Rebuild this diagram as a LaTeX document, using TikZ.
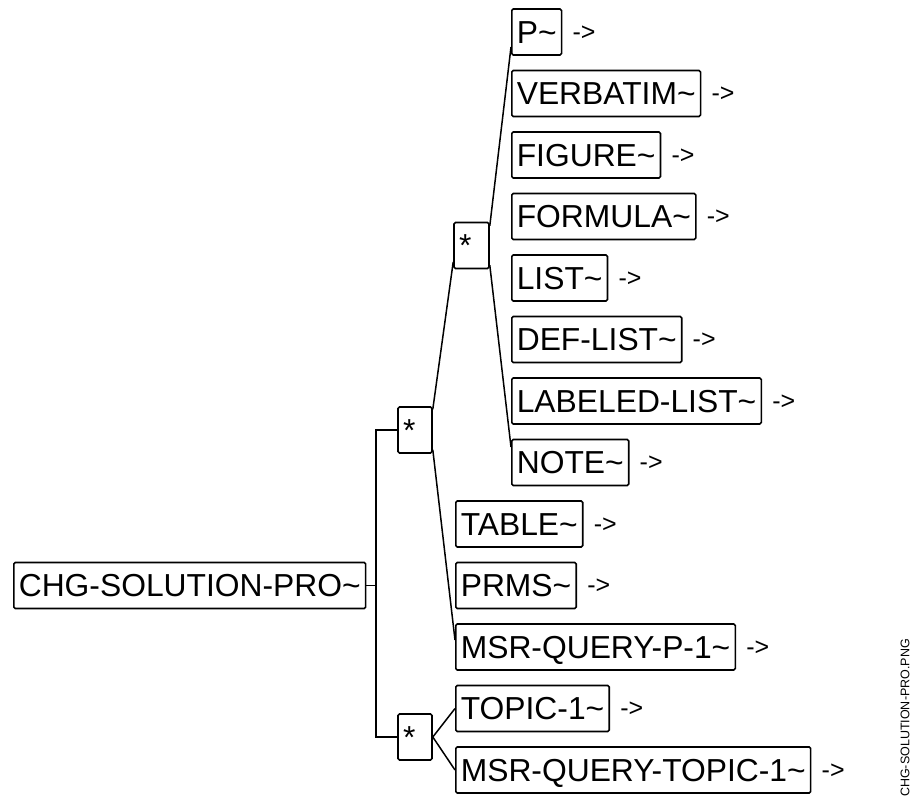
\documentclass[tikz,border=0pt]{standalone}
\usepackage{fontspec}
\setmainfont{Liberation Sans}
\newcommand{\tld}{\textasciitilde}
\begin{document}
\begin{tikzpicture}[x=1pt,y={(0pt,-1pt)},
  box/.style={draw, line width=1.6pt, rounded corners=1.5pt,
    font=\fontsize{31.8}{36}\selectfont, inner xsep=5pt, inner ysep=0pt,
    minimum height=46pt, text height=22.8pt, text depth=0pt, anchor=west},
  starbox/.style={box, anchor=center},
  arr/.style={font=\fontsize{25}{30}\selectfont, inner sep=0pt, anchor=west},
  conn/.style={line width=1.5pt}]
\useasboundingbox (0,0) rectangle (923,805);

% root and star nodes
\node[box] (root) at (13,585.5) {CHG-SOLUTION-PRO\tld};
\node[starbox] (s1) at (415,430) {\makebox[24pt][l]{*}};
\node[starbox] (s2) at (471.5,245.5) {\makebox[25pt][l]{*}};
\node[starbox] (s3) at (415,737) {\makebox[24pt][l]{*}};

% children of s2
\node[box] (p)    at (511,32)    {P\tld};
\node[box] (verb) at (511,93.5)  {VERBATIM\tld};
\node[box] (fig)  at (511,155)   {FIGURE\tld};
\node[box] (form) at (511,216.5) {FORMULA\tld};
\node[box] (list) at (511,278)   {LIST\tld};
\node[box] (dl)   at (511,339.5) {DEF-LIST\tld};
\node[box] (ll)   at (511,401)   {LABELED-LIST\tld};
\node[box] (note) at (511,462.5) {NOTE\tld};
% children of s1
\node[box] (tab)  at (455,524)   {TABLE\tld};
\node[box] (prms) at (455,585.5) {PRMS\tld};
\node[box] (mqp)  at (455,647)   {MSR-QUERY-P-1\tld};
% children of s3
\node[box] (top)  at (455,708.5) {TOPIC-1\tld};
\node[box] (mqt)  at (455,770)   {MSR-QUERY-TOPIC-1\tld};

% arrows text
\foreach \n in {p,verb,fig,form,list,dl,ll,note,tab,prms,mqp,top,mqt}
  \node[arr] (a\n) at ([xshift=10pt,yshift=-1pt]\n.east) {->};

% connectors
\draw[conn] (s1.west) -- ++(-21,0) coordinate (bt) |- (s3.west);
\draw[conn] (root.east) -- (root.east -| bt);
\draw[conn] ([yshift=-3pt]s1.north east) -- ([yshift=-16.5pt]s2.west);
\draw[conn] ([yshift=4pt]s1.south east) -- ([yshift=7pt]mqp.west);
\draw[conn] ([yshift=-4pt]s2.north east) -- ([yshift=-15pt]p.west);
\draw[conn] ([yshift=4pt]s2.south east) -- ([yshift=15.5pt]note.west);
\foreach \n in {top,mqt} \draw[conn] (s3.east) -- (\n.west);

% file name
\node[rotate=90, font=\fontsize{12.5}{14}\selectfont, inner sep=0pt] (fname) at (905,718) {CHG-SOLUTION-PRO.PNG};
\end{tikzpicture}
\end{document}
